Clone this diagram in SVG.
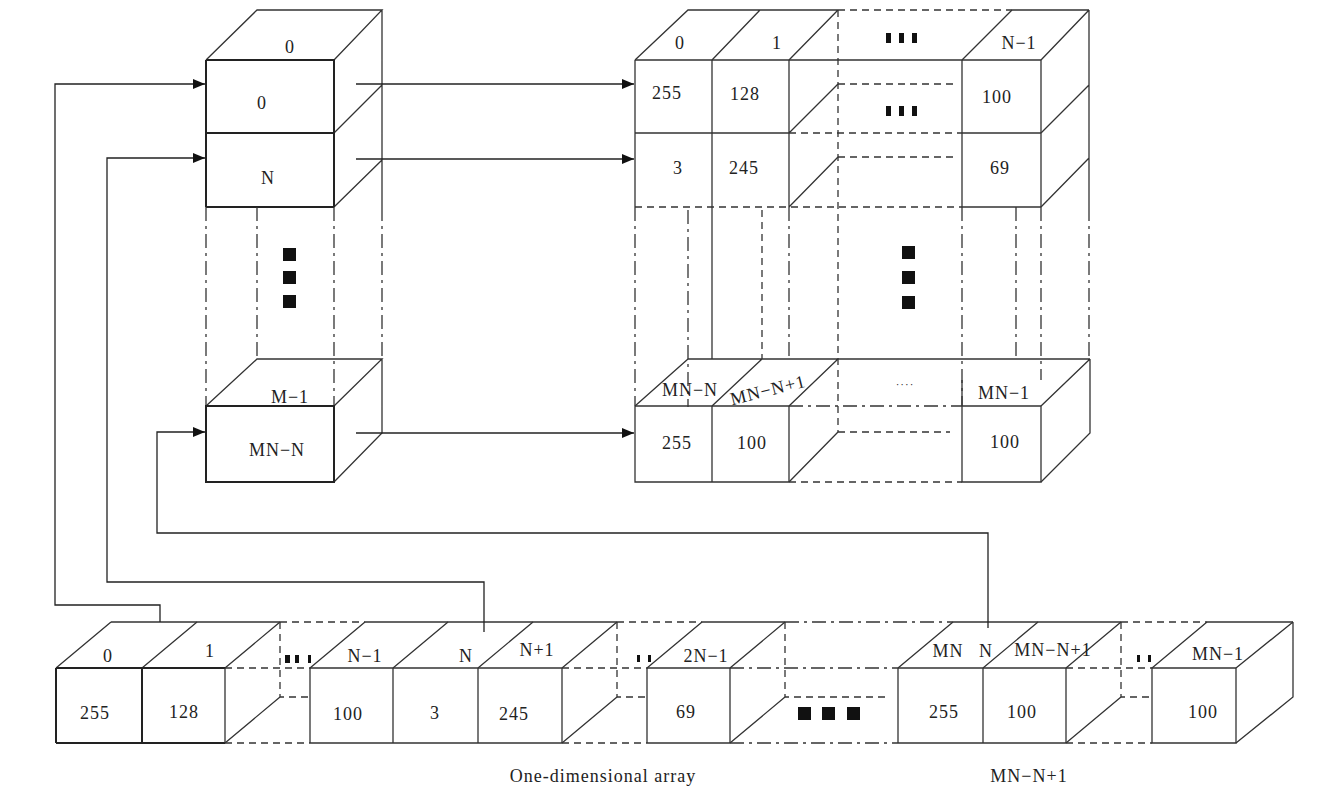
<svg xmlns="http://www.w3.org/2000/svg" width="1320" height="805" viewBox="0 0 1320 805">
<defs>
<style>
.s{stroke:#333;stroke-width:1.3;fill:none}
.b{stroke:#222;stroke-width:2;fill:none}
.d{stroke:#333;stroke-width:1.3;fill:none;stroke-dasharray:7 5}
.dd{stroke:#333;stroke-width:1.3;fill:none;stroke-dasharray:14 5 3 5}
.c{stroke:#222;stroke-width:1.3;fill:none}
.t{font-family:"Liberation Serif","Times New Roman",serif;font-size:18px;fill:#222;text-anchor:middle;letter-spacing:1px}
.sq{fill:#111}
</style>
<marker id="ah" viewBox="0 0 12 10" refX="12" refY="5" markerWidth="12" markerHeight="10" markerUnits="userSpaceOnUse" orient="auto">
<path d="M0,0 L12,5 L0,10 Z" fill="#111"/>
</marker>
</defs>
<rect width="1320" height="805" fill="#fff"/>

<g id="index-column">
<path class="s" d="M206,60 L257,10 L382,10 L334,60 M382,10 L382,207 M334,133 L382,85 M334,207 L382,160"/>
<path class="b" d="M206,60 L334,60 L334,207 M206,60 L206,207 M206,133 L334,133 M206,207 L334,207"/>
<path class="dd" d="M206,207 L206,406 M257,207 L257,359 M334,207 L334,406 M382,207 L382,359"/>
<path class="s" d="M206,406 L257,359 L382,359 L334,406 M382,359 L382,433 L334,482"/>
<rect class="b" x="206" y="406" width="128" height="76"/>
<rect class="sq" x="283" y="248" width="13" height="13"/>
<rect class="sq" x="283" y="271" width="13" height="13"/>
<rect class="sq" x="283" y="295" width="13" height="13"/>
<text class="t" x="290" y="53">0</text>
<text class="t" x="262" y="109">0</text>
<text class="t" x="268" y="184">N</text>
<text class="t" x="290" y="403">M−1</text>
<text class="t" x="277" y="456">MN−N</text>
</g>

<g id="matrix">
<path class="s" d="M635,60 L688,10 L838,10 M712,60 L760,10 M789,60 L838,10 M1012,10 L1089,10 M962,60 L1012,10 M1041,60 L1089,10 M1089,10 L1089,207 M1041,133 L1089,85 M1041,207 L1089,158"/>
<path class="s" d="M635,60 L962,60 M635,60 L635,207 M712,60 L712,207 M789,60 L789,207 M635,133 L789,133 M789,133 L838,84 M789,207 L838,157"/>
<path class="s" d="M962,60 L1041,60 L1041,207 M962,60 L962,207 M962,133 L1041,133 M962,207 L1041,207"/>
<path class="d" d="M838,10 L1012,10 M838,10 L838,432 M838,84 L955,84 M838,157 L955,157 M789,133 L962,133 M635,207 L962,207 M762,210 L762,359"/>
<path class="dd" d="M635,207 L635,406 M688,210 L688,407 M789,207 L789,359 M962,207 L962,406 M1016,207 L1016,359 M1041,207 L1041,380 M1089,207 L1089,359"/>
<path class="s" d="M712,207 L712,359"/>
<path class="s" d="M688,359 L1090,359 M635,406 L688,359 M712,406 L762,359 M789,406 L838,359 M1041,406 L1090,359 M1090,359 L1090,433 L1041,482 M838,432 L789,482"/>
<path class="s" d="M635,406 L789,406 M635,406 L635,482 L789,482 M712,406 L712,482 M789,406 L789,482 M962,406 L1041,406 L1041,482 L962,482 Z M962,380 L962,406"/>
<path class="dd" d="M789,406 L962,406"/>
<path class="d" d="M789,482 L962,482 M838,432 L950,432"/>
<rect class="sq" x="886" y="33" width="5" height="10"/>
<rect class="sq" x="899" y="33" width="5" height="10"/>
<rect class="sq" x="912" y="33" width="5" height="10"/>
<rect class="sq" x="886" y="106" width="5" height="10"/>
<rect class="sq" x="899" y="106" width="5" height="10"/>
<rect class="sq" x="912" y="106" width="5" height="10"/>
<rect class="sq" x="902" y="246" width="13" height="13"/>
<rect class="sq" x="902" y="271" width="13" height="13"/>
<rect class="sq" x="902" y="296" width="13" height="13"/>
<text class="t" x="680" y="49">0</text>
<text class="t" x="777" y="49">1</text>
<text class="t" x="1019" y="49">N−1</text>
<text class="t" x="667" y="99">255</text>
<text class="t" x="745" y="100">128</text>
<text class="t" x="997" y="103">100</text>
<text class="t" x="678" y="174">3</text>
<text class="t" x="744" y="174">245</text>
<text class="t" x="1000" y="174">69</text>
<text class="t" x="690" y="396">MN−N</text>
<text class="t" x="768" y="396" transform="rotate(-14 768 390)">MN−N+1</text>
<text class="t" x="905" y="388" style="font-size:11px">····</text>
<text class="t" x="1004" y="399">MN−1</text>
<text class="t" x="677" y="449">255</text>
<text class="t" x="752" y="449">100</text>
<text class="t" x="1005" y="448">100</text>
</g>

<g id="array">
<path class="s" d="M111,622 L280,622 M365,622 L617,622 M702,622 L785,622 M953,622 L1121,622 M1207,622 L1293,622"/>
<path class="d" d="M280,622 L365,622 M617,622 L702,622 M1121,622 L1207,622"/>
<path class="dd" d="M785,622 L953,622"/>
<path class="s" d="M56,668 L111,622 M142,668 L197,622 M225,668 L280,622 M310,668 L365,622 M393,668 L448,622 M478,668 L533,622 M562,668 L617,622 M647,668 L702,622 M730,668 L785,622 M898,668 L953,622 M983,668 L1038,622 M1066,668 L1121,622 M1152,668 L1207,622 M1236,668 L1293,622 M1293,622 L1293,697 L1236,743"/>
<path class="b" d="M56,668 L225,668 M56,743 L225,743 M56,668 L56,743 M142,668 L142,743"/>
<path class="s" d="M225,668 L225,743 M310,668 L562,668 M310,743 L562,743 M310,668 L310,743 M393,668 L393,743 M478,668 L478,743 M562,668 L562,743 M647,668 L730,668 M647,743 L730,743 M647,668 L647,743 M730,668 L730,743 M898,668 L1066,668 M898,743 L1066,743 M898,668 L898,743 M983,668 L983,743 M1066,668 L1066,743 M1152,668 L1236,668 L1236,743 L1152,743 Z"/>
<path class="s" d="M225,743 L280,697 M562,743 L617,697 M730,743 L785,697 M1066,743 L1121,697"/>
<path class="d" d="M225,668 L310,668 M225,743 L310,743 M562,668 L647,668 M562,743 L647,743 M1066,668 L1152,668 M1066,743 L1152,743 M280,622 L280,697 L310,697 M617,622 L617,697 L647,697 M785,622 L785,697 L890,697 M1121,622 L1121,697 L1152,697"/>
<path class="dd" d="M730,668 L898,668 M730,743 L898,743"/>
<rect class="sq" x="285" y="655" width="5" height="8"/>
<rect class="sq" x="295" y="655" width="4" height="8"/>
<rect class="sq" x="308" y="655" width="3" height="8"/>
<rect class="sq" x="637" y="655" width="3" height="7"/>
<rect class="sq" x="648" y="655" width="3" height="7"/>
<rect class="sq" x="1137" y="655" width="3" height="7"/>
<rect class="sq" x="1148" y="655" width="3" height="7"/>
<rect class="sq" x="798" y="707" width="13" height="13"/>
<rect class="sq" x="822" y="707" width="13" height="13"/>
<rect class="sq" x="847" y="707" width="13" height="13"/>
<text class="t" x="108" y="662">0</text>
<text class="t" x="210" y="657">1</text>
<text class="t" x="365" y="662">N−1</text>
<text class="t" x="466" y="662">N</text>
<text class="t" x="537" y="656">N+1</text>
<text class="t" x="706" y="662">2N−1</text>
<text class="t" x="948" y="657">MN</text>
<text class="t" x="986" y="657">N</text>
<text class="t" x="1053" y="656">MN−N+1</text>
<text class="t" x="1218" y="660">MN−1</text>
<text class="t" x="95" y="719">255</text>
<text class="t" x="184" y="718">128</text>
<text class="t" x="348" y="720">100</text>
<text class="t" x="435" y="719">3</text>
<text class="t" x="514" y="720">245</text>
<text class="t" x="686" y="718">69</text>
<text class="t" x="944" y="718">255</text>
<text class="t" x="1022" y="718">100</text>
<text class="t" x="1203" y="718">100</text>
</g>

<g id="captions">
<text class="t" x="603" y="782">One-dimensional array</text>
<text class="t" x="1029" y="782">MN−N+1</text>
</g>

<g id="connectors">
<path class="c" d="M160,622 L160,605 L55,605 L55,84 L205,84" marker-end="url(#ah)"/>
<path class="c" d="M484,632 L484,582 L107,582 L107,158 L205,158" marker-end="url(#ah)"/>
<path class="c" d="M988,628 L988,533 L157,533 L157,432 L205,432" marker-end="url(#ah)"/>
<path class="c" d="M356,84 L634,84" marker-end="url(#ah)"/>
<path class="c" d="M356,159 L634,159" marker-end="url(#ah)"/>
<path class="c" d="M356,433 L634,433" marker-end="url(#ah)"/>
</g>
</svg>
